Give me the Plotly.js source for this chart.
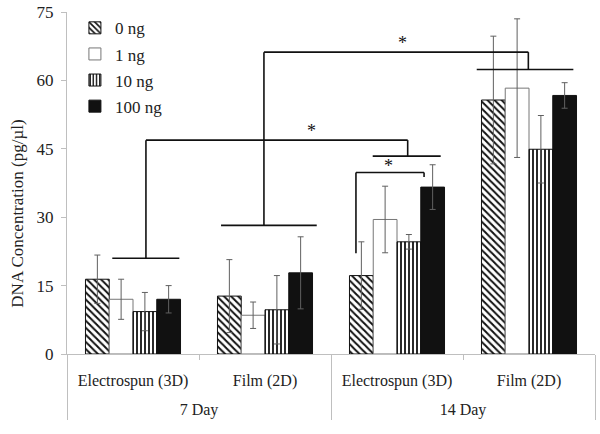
<!DOCTYPE html>
<html>
<head>
<meta charset="utf-8">
<script src="https://cdn.plot.ly/plotly-3.0.1.min.js"></script>
<style>
  body { margin: 0; background: #fff; }
  #chart { width: 600px; height: 434px; }
</style>
</head>
<body>
<div id="chart"></div>
<script>
// categories (outer level gets a leading blank line so it sits lower, as in the original)
let days = ['<br>7 Day', '<br>7 Day', '<br>14 Day', '<br>14 Day']
let scaffolds = ['Electrospun (3D)', 'Film (2D)', 'Electrospun (3D)', 'Film (2D)']
let doseNames = ['0 ng', '1 ng', '10 ng', '100 ng']

// means and error (pg/ul)
let ng0 = [16.4, 12.7, 17.2, 55.7]
let ng0Err = [5.3, 8.0, 7.4, 14.0]
let ng1 = [12.0, 8.5, 29.5, 58.3]
let ng1Err = [4.4, 2.9, 7.3, 15.2]
let ng10 = [9.3, 9.7, 24.6, 44.9]
let ng10Err = [4.2, 7.5, 1.6, 7.4]
let ng100 = [12.0, 17.8, 36.6, 56.7]
let ng100Err = [3.0, 7.9, 4.9, 2.8]

// significance brackets: [x0, x1, y, stemX, stemTopY] in category units
let lowBrackets = [
    [-0.157, 0.351, 21.0, 0.098, 46.9],
    [0.667, 1.392, 28.2, 0.992, 66.2],
    [1.816, 2.331, 43.4, 2.081, 46.9],
    [2.604, 3.336, 62.4, 2.995, 66.2]
]
// long connectors: [x0, x1, y]
let links = [
    [0.098, 2.081, 46.9],
    [0.992, 2.995, 66.2]
]
// inner bracket: [x0, x1, y, leftFootY, rightFootY]
let innerBracket = [1.689, 2.205, 39.8, 22.1, 38.8]
// stars: [x, y]
let stars = [[2.045, 68.3], [1.354, 48.9], [1.939, 41.3]]

let font = 'Liberation Serif, Times New Roman, serif'
let errStyle = (arr) => ({ type: 'data', array: arr, visible: true, color: '#606060', thickness: 1, width: 3 })

let makeBar = function (y, err, name, marker) {
    return {
        x: [days, scaffolds],
        y: y,
        name: name,
        type: 'bar',
        legendgroup: name,
        marker: marker,
        error_y: errStyle(err),
        hoverinfo: 'skip'
    }
}

let data = [
    makeBar(ng0, ng0Err, doseNames[0], {
        color: 'white', line: { color: '#111', width: 1 },
        pattern: { shape: '\\', fgcolor: '#111', bgcolor: 'white', size: 5, solidity: 0.4 }
    }),
    makeBar(ng1, ng1Err, doseNames[1], { color: 'white', line: { color: '#777', width: 1 } }),
    makeBar(ng10, ng10Err, doseNames[2], {
        color: 'white', line: { color: '#111', width: 1 },
        pattern: { shape: '|', fgcolor: '#111', bgcolor: 'white', size: 4, solidity: 0.45 }
    }),
    makeBar(ng100, ng100Err, doseNames[3], { color: '#111', line: { color: '#111', width: 1 } })
]

let shapes = []
let line = (x0, y0, x1, y1) => ({
    type: 'line', xref: 'x', yref: 'y', x0: x0, y0: y0, x1: x1, y1: y1,
    line: { color: '#111', width: 1.6 }
})
lowBrackets.forEach(b => {
    shapes.push(line(b[0], b[2], b[1], b[2]))
    shapes.push(line(b[3], b[2], b[3], b[4]))
})
links.forEach(l => shapes.push(line(l[0], l[2], l[1], l[2])))
shapes.push(line(innerBracket[0], innerBracket[3], innerBracket[0], innerBracket[2]))
shapes.push(line(innerBracket[0], innerBracket[2], innerBracket[1], innerBracket[2]))
shapes.push(line(innerBracket[1], innerBracket[2], innerBracket[1], innerBracket[4]))

let annotations = stars.map(s => ({
    x: s[0], y: s[1], xref: 'x', yref: 'y', text: '*', showarrow: false,
    font: { family: font, size: 18, color: '#111' }
}))
annotations.push({
    xref: 'paper', yref: 'paper', x: -0.093, y: 0.41, xanchor: 'center', yanchor: 'middle',
    text: 'DNA Concentration (pg/µl)', textangle: -90, showarrow: false,
    font: { family: font, size: 17, color: '#222' }
})

let layout = {
    width: 600,
    height: 434,
    margin: { l: 67, r: 5, t: 12, b: 80 },
    paper_bgcolor: 'white',
    plot_bgcolor: 'white',
    font: { family: font, size: 16, color: '#222' },
    barmode: 'group',
    bargap: 0.28,
    bargroupgap: 0,
    showlegend: true,
    legend: {
        x: 0.015, y: 1.005, xanchor: 'left', yanchor: 'top',
        traceorder: 'grouped', tracegroupgap: 1,
        font: { family: font, size: 17, color: '#222' },
        bgcolor: 'rgba(0,0,0,0)', itemwidth: 30
    },
    xaxis: {
        type: 'multicategory',
        showline: true, linecolor: '#bfbfbf', linewidth: 1,
        showgrid: false, ticks: 'outside', tickcolor: '#bfbfbf',
        showdividers: true, dividercolor: '#bfbfbf', dividerwidth: 1,
        ticklabelstandoff: 12,
        tickfont: { family: font, size: 16, color: '#222' }
    },
    yaxis: {
        range: [0, 75], dtick: 15, showgrid: false, zeroline: false,
        showline: true, linecolor: '#bfbfbf', linewidth: 1,
        ticks: 'outside', ticklen: 5, tickcolor: '#bfbfbf',
        ticklabelstandoff: 4,
        tickfont: { family: font, size: 17, color: '#222' }
    },
    shapes: shapes,
    annotations: annotations
}

Plotly.newPlot('chart', data, layout, { displayModeBar: false, staticPlot: true })
</script>
</body>
</html>
